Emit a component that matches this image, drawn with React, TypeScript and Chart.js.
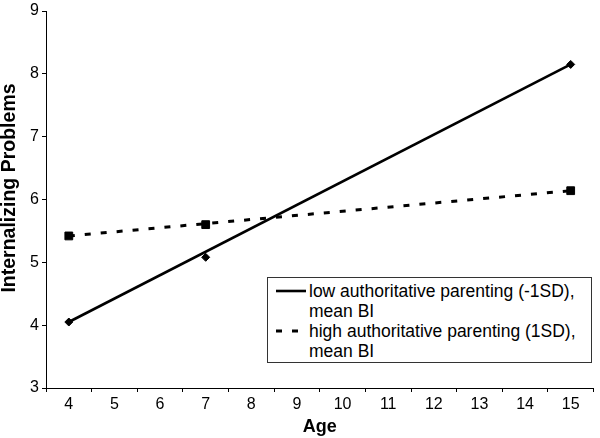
import React, { useEffect, useRef } from "react";
import { Chart, registerables } from "chart.js";

Chart.register(...registerables);

// ---- data ----
const observedAges = [4, 7, 15];
const lowObserved = [4.05, 5.08, 8.15];
const highObserved = [5.42, 5.6, 6.14];
const fittedAges = [4, 15];
const lowFitted = [4.05, 8.15];
const highFitted = [5.42, 6.14];
const xTicks = [4, 5, 6, 7, 8, 9, 10, 11, 12, 13, 14, 15];
const yTicks = [3, 4, 5, 6, 7, 8, 9];
const lowLabel = ["low authoritative parenting (-1SD),", "mean BI"];
const highLabel = ["high authoritative parenting (1SD),", "mean BI"];
const xTitle = "Age";
const yTitle = "Internalizing Problems";

const FONT = "'Liberation Sans', Arial, Helvetica, sans-serif";

const toPoints = (xs: number[], ys: number[]) => xs.map((x, i) => ({ x, y: ys[i] }));

// y-axis title drawn slightly above the scale's centre, as in the reference
const yTitlePlugin = {
  id: "yTitle",
  afterDraw(chart: any) {
    const ctx = chart.ctx;
    ctx.save();
    ctx.translate(10, 188);
    ctx.rotate(-Math.PI / 2);
    ctx.font = `bold 19.5px ${FONT}`;
    ctx.fillStyle = "#000";
    ctx.textAlign = "center";
    ctx.textBaseline = "middle";
    ctx.fillText(yTitle, 0, 0);
    ctx.restore();
  },
};

export default function App() {
  const ref = useRef<HTMLCanvasElement>(null);

  useEffect(() => {
    const chart = new Chart(ref.current as HTMLCanvasElement, {
      type: "scatter",
      data: {
        datasets: [
          {
            label: lowLabel.join(" "),
            data: toPoints(fittedAges, lowFitted),
            showLine: true,
            borderColor: "#000",
            borderWidth: 2.6,
            pointRadius: 0,
            order: 3,
          },
          {
            label: highLabel.join(" "),
            data: toPoints(fittedAges, highFitted),
            showLine: true,
            borderColor: "#000",
            borderWidth: 3,
            borderDash: [6, 10],
            pointRadius: 0,
            order: 3,
          },
          {
            label: "low observed",
            data: toPoints(observedAges, lowObserved),
            showLine: false,
            pointStyle: "rectRot",
            pointRadius: 4,
            pointBorderWidth: 1,
            pointBackgroundColor: "#000",
            pointBorderColor: "#000",
            order: 1,
          },
          {
            label: "high observed",
            data: toPoints(observedAges, highObserved),
            showLine: false,
            pointStyle: "rect",
            pointRadius: 5.5,
            pointBorderWidth: 1,
            pointBackgroundColor: "#000",
            pointBorderColor: "#000",
            order: 1,
          },
        ],
      },
      options: {
        responsive: false,
        devicePixelRatio: 1,
        animation: false,
        events: [],
        layout: { padding: { top: 0, right: 0, bottom: 0, left: 0 } },
        plugins: {
          legend: { display: false },
          tooltip: { enabled: false },
        },
        scales: {
          x: {
            type: "linear",
            min: 3.5,
            max: 15.5,
            afterBuildTicks: (scale: any) => {
              scale.ticks = xTicks.map((v) => ({ value: v }));
            },
            afterFit: (scale: any) => {
              scale.height = 50;
            },
            grid: {
              offset: true,
              drawOnChartArea: false,
              drawTicks: true,
              tickLength: 4,
              color: "#000",
            },
            border: { display: true, color: "#000", width: 1 },
            ticks: {
              color: "#000",
              font: { family: FONT, size: 16 },
              padding: 3,
              maxRotation: 0,
              autoSkip: false,
            },
            title: {
              display: true,
              text: xTitle,
              color: "#000",
              font: { family: FONT, size: 18, weight: "bold", lineHeight: 1.2 },
              padding: { top: 0, bottom: 0 },
            },
          },
          y: {
            type: "linear",
            min: 3,
            max: 9,
            afterBuildTicks: (scale: any) => {
              scale.ticks = yTicks.map((v) => ({ value: v }));
            },
            afterFit: (scale: any) => {
              scale.width = 46;
            },
            grid: {
              drawOnChartArea: false,
              drawTicks: true,
              tickLength: 4,
              color: "#000",
            },
            border: { display: true, color: "#000", width: 1 },
            ticks: {
              color: "#000",
              font: { family: FONT, size: 16, lineHeight: 1 },
              padding: 3,
            },
            title: { display: false, text: yTitle },
          },
        },
      } as any,
      plugins: [yTitlePlugin],
    });
    return () => chart.destroy();
  }, []);

  const textStyle: React.CSSProperties = {
    position: "absolute",
    left: 41,
    fontFamily: FONT,
    fontSize: 17.5,
    lineHeight: "20px",
    color: "#000",
    whiteSpace: "nowrap",
  };

  return (
    <div
      style={{
        position: "fixed",
        left: 0,
        top: 0,
        width: 600,
        height: 438,
        background: "#fff",
        overflow: "hidden",
      }}
    >
      <canvas
        ref={ref}
        width={600}
        height={438}
        style={{ display: "block", width: 600, height: 438 }}
      />
      <div
        style={{
          position: "absolute",
          left: 267,
          top: 277,
          width: 323,
          height: 84,
          border: "1px solid #333",
          background: "#fff",
        }}
      >
        <svg
          width={40}
          height={84}
          style={{ position: "absolute", left: 0, top: 0 }}
        >
          <line x1={8} y1={13} x2={38} y2={13} stroke="#000" strokeWidth={2.6} />
          <line
            x1={8}
            y1={53}
            x2={38}
            y2={53}
            stroke="#000"
            strokeWidth={3}
            strokeDasharray="6 10"
          />
        </svg>
        <div style={{ ...textStyle, top: 3 }}>
          {lowLabel[0]}
          <br />
          {lowLabel[1]}
        </div>
        <div style={{ ...textStyle, top: 43 }}>
          {highLabel[0]}
          <br />
          {highLabel[1]}
        </div>
      </div>
    </div>
  );
}
